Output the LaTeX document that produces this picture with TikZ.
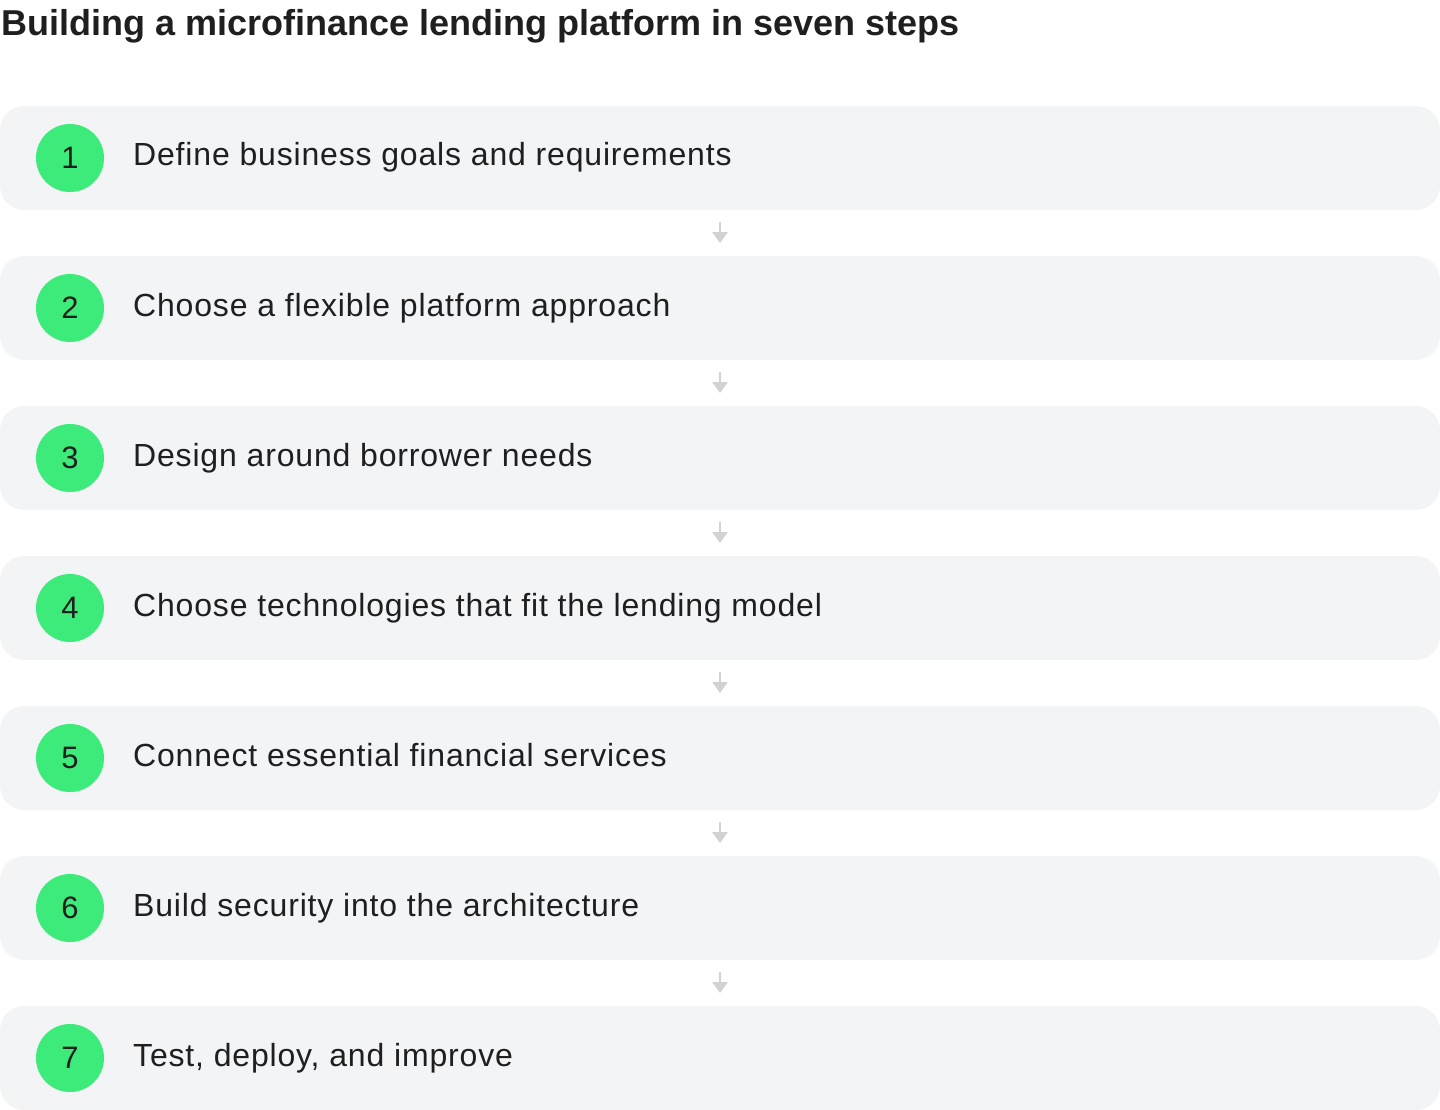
\documentclass[tikz,border=0pt]{standalone}
\usepackage{fontspec}
\setmainfont{Liberation Sans}
\newfontfamily\stepfont[LetterSpace=2.6]{Liberation Sans}
\usetikzlibrary{arrows.meta}
\definecolor{boxfill}{HTML}{F3F4F6}
\definecolor{dotgreen}{HTML}{3DEB7A}
\definecolor{txt}{HTML}{1F1F1F}
\definecolor{arr}{HTML}{D2D2D2}
\tikzset{
  stepbox/.style={fill=boxfill, rounded corners=24pt, minimum width=1440pt, minimum height=104pt, inner sep=0pt, draw=none},
  numdot/.style={circle, fill=dotgreen, minimum size=68pt, inner sep=0pt, font=\fontsize{31}{34}\selectfont, text=txt},
  steptext/.style={anchor=base west, inner sep=0pt, font=\stepfont\fontsize{32}{36}\selectfont, text=txt},
  flowarrow/.style={draw=arr, line width=2.5pt, -{Triangle[width=15pt,length=11pt]}, shorten >=0pt},
}
\begin{document}
\begin{tikzpicture}[x=1pt,y=-1pt]
\useasboundingbox (0,0) rectangle (1440,1110);
\node[anchor=base west, inner sep=0pt, font=\fontsize{36}{40}\selectfont\bfseries, text=txt] (title) at (1,36) {Building a microfinance lending platform in seven steps};
\foreach \i/\t in {1/Define business goals and requirements,
                   2/Choose a flexible platform approach,
                   3/Design around borrower needs,
                   4/Choose technologies that fit the lending model,
                   5/Connect essential financial services,
                   6/Build security into the architecture,
                   7/{Test, deploy, and improve}} {
  \pgfmathsetmacro{\yy}{158+150*(\i-1)}
  \node[stepbox] (box\i) at (720,\yy) {};
  \node[numdot] (num\i) at (70,\yy) {\i};
  \node[steptext] (lab\i) at (133,\yy+8) {\t};
}
\foreach \i in {1,...,6} {
  \pgfmathsetmacro{\ya}{210+150*(\i-1)+12}
  \pgfmathsetmacro{\yb}{210+150*(\i-1)+33}
  \coordinate (a\i) at (720,\ya);
  \coordinate (b\i) at (720,\yb);
  \draw[flowarrow] (a\i) -- (b\i);
}
\end{tikzpicture}
\end{document}
